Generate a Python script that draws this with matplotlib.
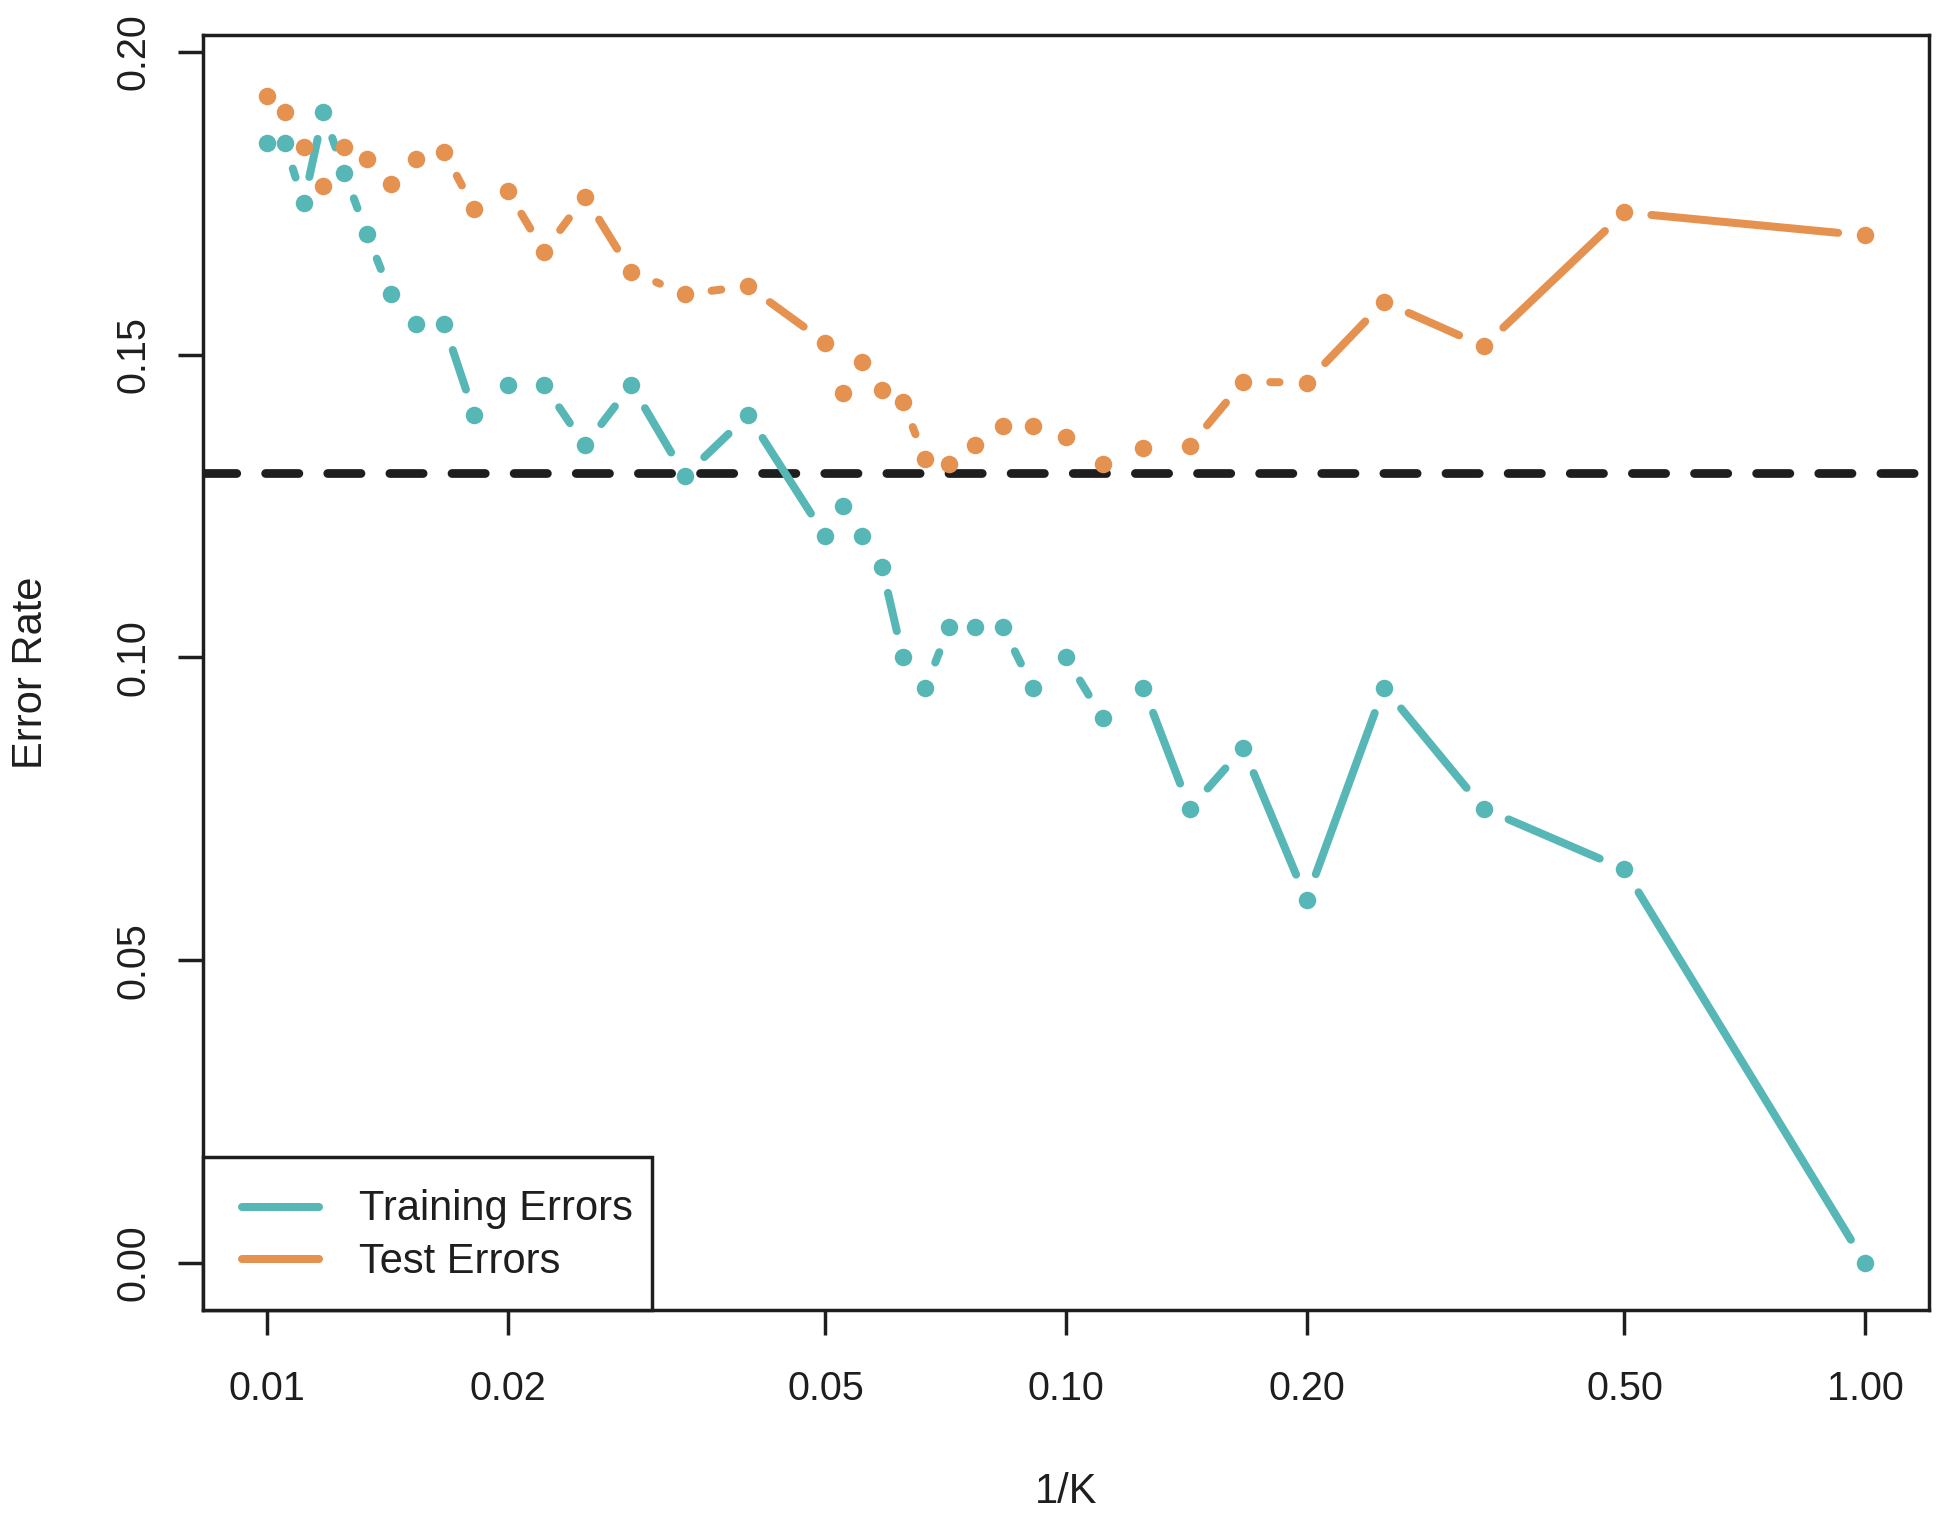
import numpy as np
import matplotlib
matplotlib.use("Agg")
import matplotlib.pyplot as plt
from matplotlib.collections import LineCollection
from matplotlib.patches import Rectangle

plt.rcParams['font.family'] = ['Liberation Sans', 'DejaVu Sans']

# number of neighbours K, plotted as 1/K
k_values = [100, 95, 90, 85, 80, 75, 70, 65, 60, 55, 50, 45, 40, 35, 30, 25,
            20, 19, 18, 17, 16, 15, 14, 13, 12, 11, 10, 9, 8, 7, 6, 5, 4, 3, 2, 1]

train_err = [0.185, 0.185, 0.175, 0.190, 0.180, 0.170, 0.160, 0.155, 0.155, 0.140,
             0.145, 0.145, 0.135, 0.145, 0.130, 0.140, 0.120, 0.125, 0.120, 0.115,
             0.100, 0.095, 0.105, 0.105, 0.105, 0.095, 0.100, 0.090, 0.095, 0.075,
             0.085, 0.060, 0.095, 0.075, 0.065, 0.000]

test_err = [0.1928, 0.1901, 0.1843, 0.1778, 0.1843, 0.1823, 0.1782, 0.1823, 0.1835, 0.1740,
            0.1771, 0.1670, 0.1761, 0.1637, 0.1600, 0.1613, 0.1520, 0.1436, 0.1488, 0.1441,
            0.1422, 0.1327, 0.1319, 0.1350, 0.1382, 0.1382, 0.1364, 0.1320, 0.1346, 0.1349,
            0.1455, 0.1454, 0.1587, 0.1514, 0.1735, 0.1697]

bayes_err = 0.1304

x_ticks = [0.01, 0.02, 0.05, 0.10, 0.20, 0.50, 1.00]
x_ticklabels = ["0.01", "0.02", "0.05", "0.10", "0.20", "0.50", "1.00"]
y_ticks = [0.00, 0.05, 0.10, 0.15, 0.20]
y_ticklabels = ["0.00", "0.05", "0.10", "0.15", "0.20"]

series_names = ["Training Errors", "Test Errors"]

teal = "#56B7B6"
orange = "#E5914F"
dark = "#1E1E1E"

W, H = 1954, 1514
fig = plt.figure(figsize=(W / 100, H / 100), dpi=100)
ax = fig.add_axes([203 / W, 1 - 1310 / H, (1929 - 203) / W, (1310 - 35) / H])

ax.set_xscale("log")
ax.set_xlim(10 ** -2.0801, 10 ** 0.0801)
ax.set_ylim(-0.0078, 0.2028)

ax.set_xticks(x_ticks)
ax.set_xticklabels(x_ticklabels)
ax.xaxis.set_minor_locator(matplotlib.ticker.NullLocator())
ax.set_yticks(y_ticks)
ax.set_yticklabels(y_ticklabels, rotation=90, va="center")

ax.tick_params(axis="both", direction="out", length=18, width=2.5, colors=dark, labelsize=28.5)
ax.tick_params(axis="x", pad=25.5)
ax.tick_params(axis="y", pad=18)
for sp in ax.spines.values():
    sp.set_linewidth(2.5)
    sp.set_color(dark)

ax.set_xlabel("1/K", fontsize=30, color=dark, va="center")
ax.xaxis.set_label_coords(0.5, -0.1427)
ax.set_ylabel("Error Rate", fontsize=30, color=dark, va="center")
ax.yaxis.set_label_coords(-0.0997, 0.5)

# Bayes error rate
ax.axhline(bayes_err, color=dark, lw=6.3, linestyle=(0, (3.8, 3.3)),
           dash_capstyle="round", zorder=1)

lw_px = 8
gap_px = 27


def gapped(xv, yv):
    # R style type="b": segments stop short of the points
    T = ax.transData
    pts = T.transform(np.column_stack([xv, yv]))
    segs = []
    for p0, p1 in zip(pts[:-1], pts[1:]):
        d = p1 - p0
        L = np.hypot(d[0], d[1])
        if L <= 2 * gap_px:
            continue
        u = d / L
        segs.append(T.inverted().transform([p0 + u * gap_px, p1 - u * gap_px]))
    return segs


x = 1.0 / np.array(k_values, dtype=float)

for yv, col in [(train_err, teal), (test_err, orange)]:
    lc = LineCollection(gapped(x, yv), colors=col, linewidths=lw_px * 0.72,
                        capstyle="round", zorder=2)
    ax.add_collection(lc)
    ax.plot(x, yv, "o", color=col, markersize=12.6, markeredgewidth=0, zorder=3)

# legend box in the lower left corner, R style
ax.add_patch(Rectangle((0, 0), 0.2601, 0.12, transform=ax.transAxes, facecolor="white",
                       edgecolor=dark, linewidth=2.5, zorder=5, clip_on=False))
for name, col, yl, yt in zip(series_names, [teal, orange], [0.0805, 0.040], [0.0706, 0.0293]):
    ax.plot([0.0226, 0.0672], [yl, yl], transform=ax.transAxes, color=col,
            lw=lw_px * 0.72, solid_capstyle="round", zorder=6)
    ax.text(0.0904, yt, name, transform=ax.transAxes, fontsize=30, color=dark,
            ha="left", va="baseline", zorder=6)

fig.savefig("out.png", dpi=100)
